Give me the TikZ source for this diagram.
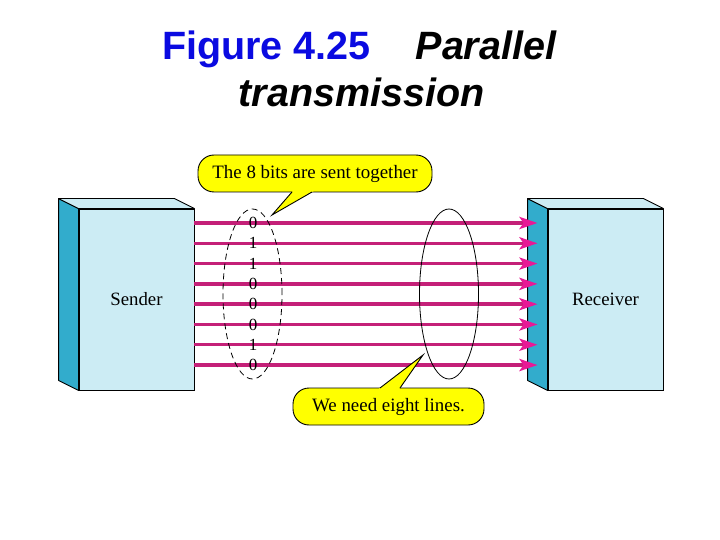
\documentclass[tikz,border=0pt]{standalone}
\usepackage{fontspec}
\setmainfont{Liberation Serif}
\newfontfamily\titlefont{Liberation Sans}
\usetikzlibrary{arrows.meta,shapes.geometric}
\definecolor{titleblue}{RGB}{10,10,225}
\definecolor{boxfront}{RGB}{204,236,244}
\definecolor{boxside}{RGB}{50,172,204}
\definecolor{wirecol}{RGB}{196,32,120}
\definecolor{tipcol}{RGB}{232,24,150}
\definecolor{noteyellow}{RGB}{255,255,0}
\begin{document}
\begin{tikzpicture}[x=1pt,y=-1pt,
  frontface/.style={draw=black,line width=0.9pt,fill=boxfront,minimum width=115pt,minimum height=181pt,inner sep=0pt,font=\fontsize{18.8}{22}\selectfont},
  sideface/.style={draw=black,line width=0.9pt,fill=boxside,line join=round},
  topface/.style={draw=black,line width=0.9pt,fill=boxfront,line join=round},
  wire/.style={draw=wirecol,line width=3.4pt,-{Stealth[length=18pt,width=12pt,inset=4pt,color=tipcol]}},
  bitlabel/.style={inner sep=0pt,font=\fontsize{17}{19}\selectfont},
  groupring/.style={draw=black,line width=0.8pt,ellipse,minimum width=59pt,minimum height=170pt,inner sep=0pt},
  notebox/.style={draw=black,line width=0.9pt,fill=noteyellow,rounded corners=16pt,minimum height=37pt,inner sep=0pt,font=\fontsize{18.9}{22}\selectfont},
  pointerfill/.style={fill=noteyellow},
  pointerline/.style={draw=black,line width=0.9pt,line join=miter},
  titletext/.style={inner sep=0pt,anchor=base,font=\titlefont\bfseries\fontsize{39.5}{47}\selectfont}
]
\useasboundingbox (0,0) rectangle (720,540);
\fill[white] (0,0) rectangle (720,540);

% title
\node[titletext] (title1) at (359.5,60) {\textcolor{titleblue}{Figure 4.25}\hspace{45pt}\textit{Parallel}};
\node[titletext] (title2) at (361.5,107) {\textit{transmission}};

% sender box
\node[frontface] (sender) at (136.5,299.5) {Sender};
\draw[sideface] (sender.north west) -- ([shift={(-20,-10)}]sender.north west) -- ([shift={(-20,-10)}]sender.south west) -- (sender.south west) -- cycle;
\draw[topface] (sender.north west) -- ([shift={(-20,-10)}]sender.north west) -- ([shift={(-20,-10)}]sender.north east) -- (sender.north east) -- cycle;

% receiver box
\node[frontface] (receiver) at (605.5,299.5) {Receiver};
\draw[sideface] (receiver.north west) -- ([shift={(-20,-10)}]receiver.north west) -- ([shift={(-20,-10)}]receiver.south west) -- (receiver.south west) -- cycle;
\draw[topface] (receiver.north west) -- ([shift={(-20,-10)}]receiver.north west) -- ([shift={(-20,-10)}]receiver.north east) -- (receiver.north east) -- cycle;

% wires
\foreach \i in {0,...,7} {
  \pgfmathsetmacro{\yy}{223+20.29*\i}
  \coordinate (tip\i) at ([xshift=-10pt]receiver.west |- 0,\yy);
  \draw[wire] (sender.east |- 0,\yy) -- (tip\i);
}

% bits
\foreach \b [count=\i from 0] in {0,1,1,0,0,0,1,0} {
  \pgfmathsetmacro{\yy}{223+20.29*\i}
  \node[bitlabel] (bit\i) at (253,\yy) {\b};
}

% ellipses
\node[groupring,dashed,dash pattern=on 6pt off 4pt] (bitgroup) at (252.5,294) {};
\node[groupring] (linegroup) at (449,294) {};

% top note
\node[notebox,minimum width=234pt] (note1) at (315,173.5) {The 8 bits are sent together};
\coordinate (p1) at (272,215);
\fill[pointerfill] (293.7,190) -- (p1) -- (315.5,190) -- cycle;
\draw[pointerline] (292,192) -- (p1) -- (312,192);

% bottom note
\node[notebox,minimum width=191pt] (note2) at (388.5,406.5) {We need eight lines.};
\coordinate (p2) at (423,355);
\fill[pointerfill] (377.4,390) -- (p2) -- (398.6,390) -- cycle;
\draw[pointerline] (380,388) -- (p2) -- (400,388);
\end{tikzpicture}
\end{document}
